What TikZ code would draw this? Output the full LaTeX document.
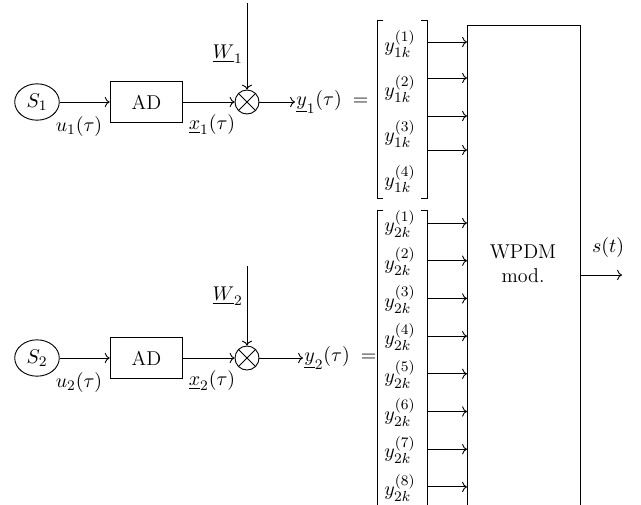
\documentclass[tikz,border=0pt]{standalone}
\usetikzlibrary{arrows.meta,positioning,shapes.geometric}

\begin{document}
\begin{tikzpicture}[x=0.55pt,y=-0.55pt,line width=0.5pt,
  font=\fontsize{11}{13}\selectfont,
  block/.style={draw,minimum width=40pt,minimum height=23pt},
  src/.style={draw,ellipse,minimum width=24.5pt,minimum height=20pt,inner sep=0pt},
  mult/.style={draw,circle,minimum size=13.2pt,inner sep=0pt},
  ent/.style={inner sep=0pt}]
  \useasboundingbox (0,0) rectangle (641,504);
  \clip (0,0) rectangle (641,504);
  % two source branches
  \foreach \r/\yy/\wt/\wl/\ys in {1/102/3/54/295,2/358/266/296/303}{
    \node[src] (s\r) at (37,\yy) {$S_\r$};
    \node[block] (ad\r) at (146.5,\yy) {AD};
    \node[mult] (m\r) at (247,\yy) {};
    \draw (m\r.45) -- (m\r.225) (m\r.135) -- (m\r.315);
    \coordinate (w\r) at (247,\wt);
    \node[anchor=west,inner sep=0.5pt] (y\r) at (\ys,\yy) {$\underline{y}_\r(\tau)\;=$};
    \node (u\r) at (79,\yy+25) {$u_\r(\tau)$};
    \node (x\r) at (212,\yy+23) {$\underline{x}_\r(\tau)$};
    \node[anchor=east,inner sep=1pt] (wn\r) at (245,\wl) {$\underline{W}_\r$};
    \draw[->] (s\r) -- (ad\r);
    \draw[->] (ad\r) -- (m\r);
    \draw[->] (w\r) -- (m\r);
    \draw[->] (m\r) -- (m\r -| y\r.west);
  }
  % modulator
  \node[draw,minimum width=62.15pt,minimum height=280pt,anchor=north west] (wpdm) at (467,25) {};
  \node[align=center] (wlab) at (523,264) {WPDM\\mod.};
  \coordinate (out) at (622,275);
  \draw[->] (wpdm.east |- out) -- (out);
  \node (st) at (608,248) {$s(t)$};
  % vector brackets
  \draw (383,20) -- (377,20) -- (377,198) -- (383,198);
  \draw (421,20) -- (427,20) -- (427,198) -- (421,198);
  \draw (383,210) -- (377,210) -- (377,530);
  \draw (421,210) -- (427,210) -- (427,530);
  \foreach \i/\ey/\ay in {1/44/42,2/89/78,3/134/116,4/179/150}{
    \node[ent] (e1\i) at (400,\ey) {$y_{1k}^{(\i)}$};
    \coordinate (p1\i) at (427,\ay);
    \draw[->] (p1\i) -- (p1\i -| wpdm.west);
  }
  \foreach \i in {1,...,8}{
    \node[ent] (e2\i) at (400,{224+37.7*(\i-1)}) {$y_{2k}^{(\i)}$};
    \coordinate (p2\i) at (427,{223+37.7*(\i-1)});
    \draw[->] (p2\i) -- (p2\i -| wpdm.west);
  }
\end{tikzpicture}
\end{document}
